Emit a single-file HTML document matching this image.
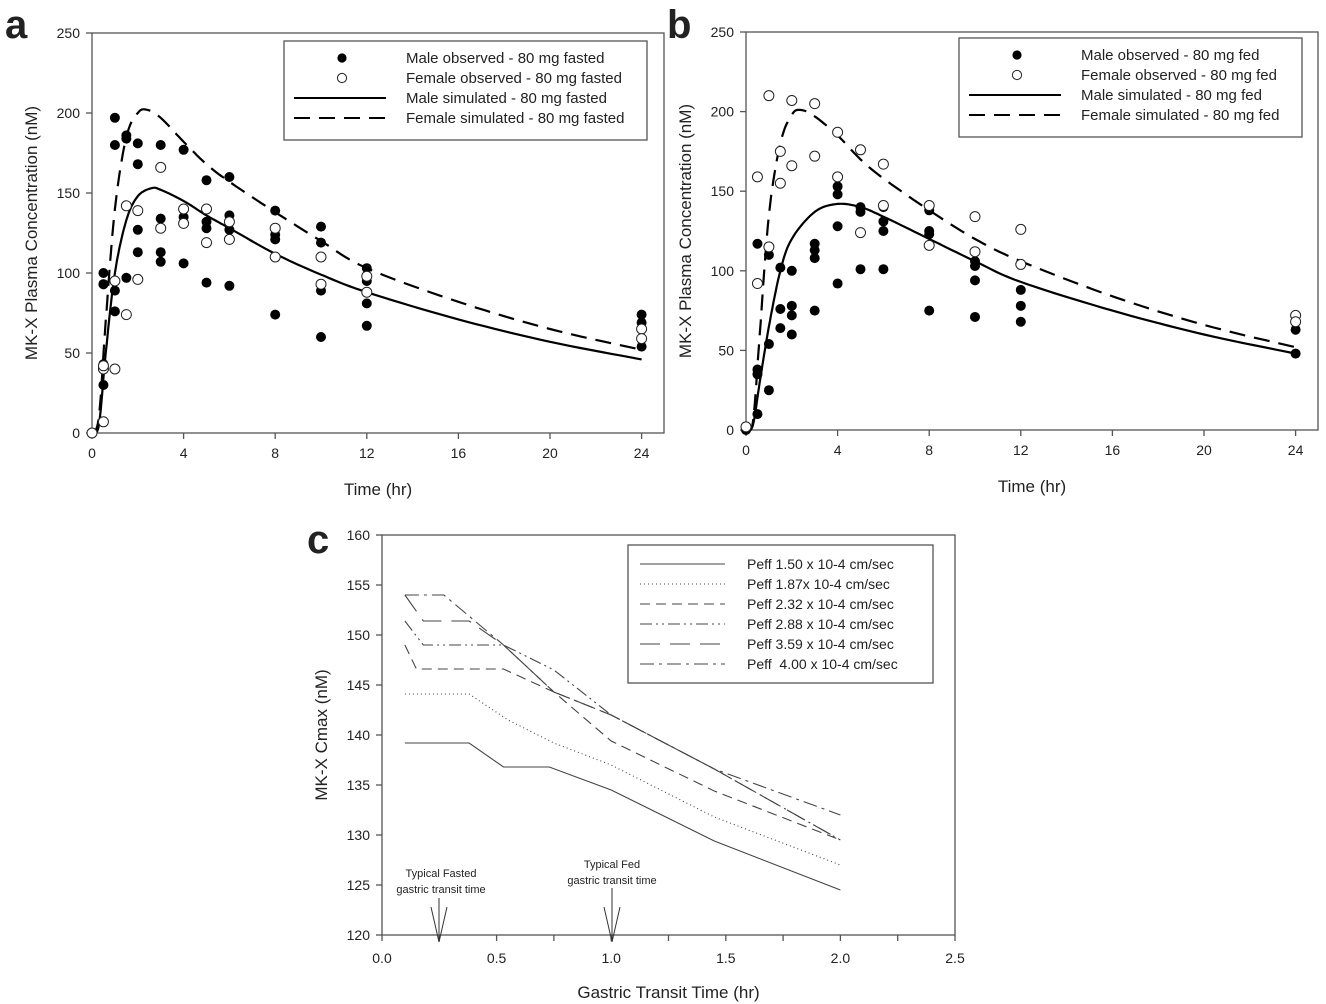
<!DOCTYPE html>
<html><head><meta charset="utf-8"><style>
body{margin:0;background:#fff;}
svg{display:block;font-family:"Liberation Sans",Arial,sans-serif;}
</style></head><body>
<svg id="s" width="1326" height="1004" xmlns="http://www.w3.org/2000/svg"></svg>
<script>
const S=document.getElementById('s');let h='';
function line(x1,y1,x2,y2,st){h+=`<line x1="${x1}" y1="${y1}" x2="${x2}" y2="${y2}" stroke="#555" stroke-width="1.3" ${st||''}/>`;}
function txt(x,y,t,sz,anc,extra){h+=`<text x="${x}" y="${y}" font-size="${sz}" text-anchor="${anc||'start'}" fill="#222" ${extra||''}>${t}</text>`;}
function cr(P){const out=[];for(let i=0;i<P.length-1;i++){const p0=P[Math.max(0,i-1)],p1=P[i],p2=P[i+1],p3=P[Math.min(P.length-1,i+2)];for(let s=0;s<10;s++){const t=s/10,t2=t*t,t3=t2*t;const f=(a,b,c,d)=>0.5*((2*b)+(-a+c)*t+(2*a-5*b+4*c-d)*t2+(-a+3*b-3*c+d)*t3);out.push([f(p0[0],p1[0],p2[0],p3[0]),f(p0[1],p1[1],p2[1],p3[1])]);}}out.push(P[P.length-1]);return out;}
function panelAB(o){
 const X=t=>o.x0+t*o.sx, Y=c=>o.y0-c*o.sy;
 h+=`<rect x="${o.x0}" y="${Y(250)}" width="${o.xr-o.x0}" height="${o.y0-Y(250)}" fill="none" stroke="#555" stroke-width="1.3"/>`;
 for(let v=0;v<=250;v+=50){line(o.x0-6,Y(v),o.x0,Y(v));txt(o.x0-12,Y(v)+5,v,14,'end');}
 for(let v=0;v<=24;v+=4){line(X(v),o.y0,X(v),o.y0+6);txt(X(v),o.y0+25,v,14,'middle');}
 txt((o.x0+o.xr)/2,o.y0+62,'Time (hr)',17,'middle');
 h+=`<text transform="translate(${o.x0-55},${Y(125)}) rotate(-90)" font-size="17" text-anchor="middle" fill="#222">MK-X Plasma Concentration (nM)</text>`;
 txt(o.lx,o.ly,o.letter,40,'start','font-weight="bold" fill="#000"');
 for(const c of o.curves){const p=cr(c.p);const d=p.map((q,i)=>(i?'L':'M')+X(q[0]).toFixed(1)+','+Y(Math.max(0,q[1])).toFixed(1)).join('');h+=`<path d="${d}" fill="none" stroke="#000" stroke-width="2.2" ${c.dash?'stroke-dasharray="16,9"':''}/>`;}
 for(const [t,arr] of o.male)for(const v of arr)h+=`<circle cx="${X(t)}" cy="${Y(v)}" r="5" fill="#000"/>`;
 for(const [t,arr] of o.fem)for(const v of arr)h+=`<circle cx="${X(t)}" cy="${Y(v)}" r="5" fill="#fff" stroke="#222" stroke-width="1"/>`;
 const L=o.leg;h+=`<rect x="${L.x}" y="${L.y}" width="${L.w}" height="${L.h}" fill="#fff" stroke="#555" stroke-width="1.3"/>`;
 const rows=o.labels;for(let i=0;i<4;i++){const yy=L.y+20+i*20;
  if(i==0)h+=`<circle cx="${L.x+58}" cy="${yy-3}" r="4.6" fill="#000"/>`;
  if(i==1)h+=`<circle cx="${L.x+58}" cy="${yy-3}" r="4.6" fill="#fff" stroke="#222"/>`;
  if(i==2)h+=`<line x1="${L.x+10}" y1="${yy-3}" x2="${L.x+102}" y2="${yy-3}" stroke="#000" stroke-width="2"/>`;
  if(i==3)h+=`<line x1="${L.x+10}" y1="${yy-3}" x2="${L.x+102}" y2="${yy-3}" stroke="#000" stroke-width="2" stroke-dasharray="16,9"/>`;
  txt(L.x+122,yy+2,rows[i],15);}
}
panelAB({x0:92,xr:664,y0:433,sx:22.9,sy:1.6,letter:'a',lx:5,ly:38,
 curves:[{p:[[0,0],[0.3,5],[0.6,50],[1,100],[1.5,133],[2,148],[2.6,153],[3,152],[4,145],[5,136],[6,128],[8,112],[10,99],[12,88],[16,71],[20,57],[24,46]]},
 {p:[[0,0],[0.3,10],[0.6,70],[1,140],[1.5,185],[2,200],[2.4,202],[3,197],[4,182],[5,168],[6,157],[8,138],[10,120],[12,103],[16,82],[20,65],[24,52]],dash:1}],
 male:[[0,[0]],[0.5,[100,93,93,43,30]],[1,[197,180,89,76]],[1.5,[186,184,142,97]],[2,[181,168,127,113]],[3,[180,134,113,107]],[4,[177,135,106]],[5,[158,132,128,94]],[6,[160,136,127,92]],[8,[139,124,121,74]],[10,[129,119,89,60]],[12,[103,95,81,67]],[24,[74,69,54]]],
 fem:[[0,[0]],[0.5,[7,40,42]],[1,[40,95]],[1.5,[142,74]],[2,[139,96]],[3,[166,128]],[4,[140,131]],[5,[140,119]],[6,[132,121]],[8,[128,110]],[10,[93,110]],[12,[98,88]],[24,[65,59]]],
 leg:{x:284,y:41,w:363,h:99},labels:['Male observed - 80 mg fasted','Female observed - 80 mg fasted','Male simulated - 80 mg fasted','Female simulated - 80 mg fasted']});
panelAB({x0:746,xr:1318,y0:430,sx:22.9,sy:1.592,letter:'b',lx:667,ly:38,
 curves:[{p:[[0,0],[0.3,3],[0.6,30],[1,65],[1.5,100],[2,120],[3,137],[4,142],[5,140],[6,134],[8,120],[10,106],[12,93],[16,75],[20,60],[24,48]]},
 {p:[[0,0],[0.3,5],[0.6,60],[1,135],[1.5,180],[2,198],[2.4,201],[3,197],[4,185],[5,170],[6,158],[8,138],[10,120],[12,106],[16,84],[20,66],[24,52]],dash:1}],
 male:[[0,[0]],[0.5,[117,38,35,10]],[1,[110,54,25]],[1.5,[102,76,64]],[2,[100,78,72,60]],[3,[117,113,108,75]],[4,[153,148,128,92]],[5,[140,137,101]],[6,[140,131,125,101]],[8,[138,125,123,75]],[10,[106,103,94,71]],[12,[88,78,68]],[24,[63,48]]],
 fem:[[0,[2]],[0.5,[159,92]],[1,[210,115]],[1.5,[175,155]],[2,[207,166]],[3,[205,172]],[4,[187,159]],[5,[176,124]],[6,[167,141]],[8,[141,116]],[10,[134,112]],[12,[126,104]],[24,[72,68]]],
 leg:{x:959,y:38,w:343,h:99},labels:['Male observed - 80 mg fed','Female observed - 80 mg fed','Male simulated - 80 mg fed','Female simulated - 80 mg fed']});
{const x0=382,sx=229.2,y0=935,sy=10,X=t=>x0+t*sx,Y=c=>y0-(c-120)*sy;
 h+=`<rect x="${x0}" y="${Y(160)}" width="${X(2.5)-x0}" height="400" fill="none" stroke="#555" stroke-width="1.3"/>`;
 for(let v=120;v<=160;v+=5){line(x0-6,Y(v),x0,Y(v));txt(x0-12,Y(v)+5,v,14,'end');}
 for(let v=0;v<=2.5001;v+=0.25){line(X(v),y0,X(v),y0+6);}
 for(let v=0;v<=2.5001;v+=0.5)txt(X(v),y0+28,v.toFixed(1),14,'middle');
 txt((x0+X(2.5))/2,y0+63,'Gastric Transit Time (hr)',17,'middle');
 h+=`<text transform="translate(${x0-55},${Y(140)}) rotate(-90)" font-size="17" text-anchor="middle" fill="#222">MK-X Cmax (nM)</text>`;
 txt(307,553,'c',40,'start','font-weight="bold" fill="#000"');
 const ds=['','1,3','10,6','12,4,2,4,2,4','20,10','14,5,3,5'];
 const L=[[[0.1,139.2],[0.38,139.2],[0.53,136.8],[0.73,136.8],[1.0,134.5],[1.45,129.4],[2.0,124.5]],
 [[0.1,144.1],[0.38,144.1],[0.55,141.5],[0.75,139.2],[1.0,137],[1.45,131.8],[2.0,127]],
 [[0.1,149],[0.15,146.6],[0.53,146.6],[0.75,144.3],[1.0,139.4],[1.45,134.4],[2.0,129.5]],
 [[0.1,151.4],[0.18,149],[0.53,149],[0.75,146.5],[1.0,142],[1.45,136.6],[2.0,129.5]],
 [[0.1,154],[0.18,151.4],[0.38,151.4],[0.53,149],[0.75,144.3],[1.0,142],[1.45,136.6],[2.0,129.5]],
 [[0.1,154],[0.27,154],[0.53,149],[0.75,144.3],[1.0,142],[1.45,136.6],[2.0,132]]];
 L.forEach((p,i)=>{const d=p.map((q,j)=>(j?'L':'M')+X(q[0]).toFixed(1)+','+Y(q[1]).toFixed(1)).join('');h+=`<path d="${d}" fill="none" stroke="#444" stroke-width="1.1" ${ds[i]?`stroke-dasharray="${ds[i]}"`:''}/>`;});
 h+=`<rect x="628" y="545" width="305" height="138" fill="#fff" stroke="#555" stroke-width="1.3"/>`;
 const lab=['Peff 1.50 x 10-4 cm/sec','Peff 1.87x 10-4 cm/sec','Peff 2.32 x 10-4 cm/sec','Peff 2.88 x 10-4 cm/sec','Peff 3.59 x 10-4 cm/sec','Peff &#160;4.00 x 10-4 cm/sec'];
 lab.forEach((t,i)=>{const yy=564+i*20;h+=`<line x1="640" y1="${yy}" x2="725" y2="${yy}" stroke="#444" stroke-width="1.1" ${ds[i]?`stroke-dasharray="${ds[i]}"`:''}/>`;txt(747,yy+5,t,14);});
 txt(441,877,'Typical Fasted',11,'middle');txt(441,893,'gastric transit time',11,'middle');
 txt(612,868,'Typical Fed',11,'middle');txt(612,884,'gastric transit time',11,'middle');
 for(const ax of [439,612]){const top=ax==439?898:888;h+=`<line x1="${ax}" y1="${top}" x2="${ax}" y2="942" stroke="#333"/><line x1="${ax-8}" y1="907" x2="${ax}" y2="942" stroke="#333"/><line x1="${ax+8}" y1="907" x2="${ax}" y2="942" stroke="#333"/>`;}
}
S.innerHTML=h;
</script>
</body></html>
